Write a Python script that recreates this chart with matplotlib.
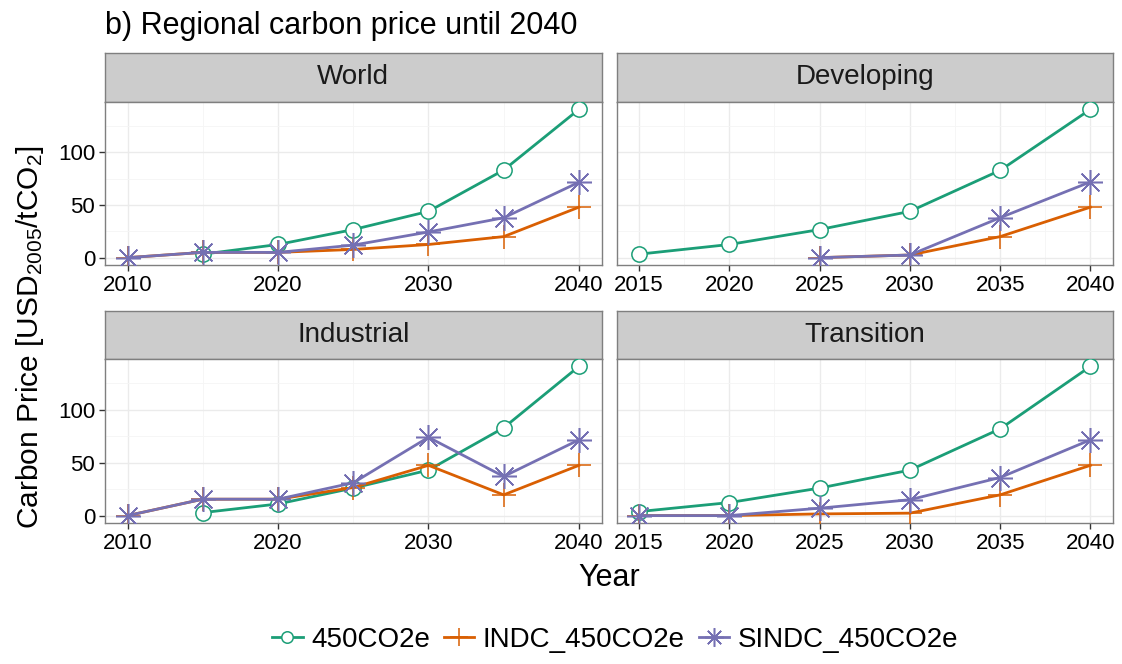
import numpy as np
import matplotlib
matplotlib.use("Agg")
import matplotlib.pyplot as plt
from matplotlib.lines import Line2D

plt.rcParams['font.family'] = ['Liberation Sans', 'DejaVu Sans']
plt.rcParams['mathtext.fontset'] = 'custom'
plt.rcParams['mathtext.rm'] = 'Liberation Sans'
plt.rcParams['mathtext.it'] = 'Liberation Sans'

nan = np.nan

# data
years_long = [2010, 2015, 2020, 2025, 2030, 2035, 2040]
years_short = [2015, 2020, 2025, 2030, 2035, 2040]

world_450 = [nan, 3.3, 12.5, 26.7, 44, 83.3, 141]
world_indc = [0, 5, 5, 7.8, 12.5, 20, 48]
world_sindc = [0, 5, 5, 11.9, 24.4, 37.9, 71.7]

dev_450 = [3.3, 12.5, 26.7, 44, 83, 141]
dev_indc = [nan, nan, 0, 2.5, 20, 48]
dev_sindc = [nan, nan, 0, 2.5, 38, 72]

ind_450 = [nan, 2.8, 11, 26, 43, 83, 141]
ind_indc = [0, 15.5, 15.5, 26.5, 47.5, 19.6, 47.5]
ind_sindc = [0, 15.5, 15.5, 31, 74, 37, 71.6]

tr_450 = [3.8, 12.3, 26, 43, 82, 141]
tr_indc = [0, 0, 1.6, 2.3, 19.6, 47.5]
tr_sindc = [0, 0, 7, 15, 36, 71.6]

scenarios = ['450CO2e', 'INDC_450CO2e', 'SINDC_450CO2e']
colors = ['#1B9E77', '#D95F02', '#7570B3']
markers = ['o', '+', (8, 2, 0)]
msizes = [11, 17, 18]

panels = [
    ('World', years_long, [world_450, world_indc, world_sindc]),
    ('Developing', years_short, [dev_450, dev_indc, dev_sindc]),
    ('Industrial', years_long, [ind_450, ind_indc, ind_sindc]),
    ('Transition', years_short, [tr_450, tr_indc, tr_sindc]),
]

W, H = 1122, 664
fig = plt.figure(figsize=(W / 100, H / 100), dpi=100)

def px(x0, y0, x1, y1):
    return [x0 / W, 1 - y1 / H, (x1 - x0) / W, (y1 - y0) / H]

cols = [(105, 601.5), (616.5, 1113)]
rows = [(53, 102, 265), (311, 359, 523)]

for i, (name, yrs, series) in enumerate(panels):
    c0, c1 = cols[i % 2]
    s0, p0, p1 = rows[i // 2]
    # strip
    sax = fig.add_axes(px(c0, s0, c1, p0))
    sax.set_facecolor('#CCCCCC')
    sax.set_xticks([])
    sax.set_yticks([])
    for sp in sax.spines.values():
        sp.set_color('#7F7F7F')
        sp.set_linewidth(1.0)
    sax.text(0.5, 0.5, name, ha='center', va='center', fontsize=20,
             transform=sax.transAxes, color='#1A1A1A')

    ax = fig.add_axes(px(c0, p0, c1, p1))
    for vals, col, mk, ms in zip(series, colors, markers, msizes):
        fc = 'white' if mk == 'o' else col
        ax.plot(yrs, vals, color=col, lw=2.0, marker=mk, ms=ms,
                mfc=fc, mec=col, mew=1.1, zorder=3)
    span = yrs[-1] - yrs[0]
    ax.set_xlim(yrs[0] - 0.05 * span, yrs[-1] + 0.05 * span)
    ax.set_ylim(-7, 148)
    if yrs[0] == 2010:
        ax.set_xticks([2010, 2020, 2030, 2040])
        ax.set_xticks([2015, 2025, 2035], minor=True)
    else:
        ax.set_xticks(yrs)
        ax.set_xticks([2017.5, 2022.5, 2027.5, 2032.5, 2037.5], minor=True)
    ax.set_yticks([0, 50, 100])
    ax.set_yticks([25, 75, 125], minor=True)
    ax.grid(which='major', color='#EBEBEB', lw=1.0, zorder=0)
    ax.grid(which='minor', color='#F5F5F5', lw=0.6, zorder=0)
    ax.set_axisbelow(True)
    ax.tick_params(which='major', length=4, width=1, color='#333333',
                   labelsize=16, labelcolor='black', pad=3)
    ax.tick_params(which='minor', length=0)
    if i % 2 == 1:
        ax.tick_params(axis='y', labelleft=False, length=0)
    for sp in ax.spines.values():
        sp.set_color('#7F7F7F')
        sp.set_linewidth(1.0)

fig.text(105 / W, 1 - 26 / H, 'b) Regional carbon price until 2040', fontsize=22,
         ha='left', va='center')
fig.text(609 / W, 1 - 578 / H, 'Year', fontsize=22, ha='center', va='center')
fig.text(30 / W, 1 - 337 / H, 'Carbon Price [USD$_{2005}$/tCO$_{2}$]', fontsize=21.5,
         ha='center', va='center', rotation=90)

handles = []
for lab, col, mk, ms in zip(scenarios, colors, markers, msizes):
    fc = 'white' if mk == 'o' else col
    handles.append(Line2D([], [], color=col, lw=2.0, marker=mk, ms=ms * 0.75,
                          mfc=fc, mec=col, mew=1.1, label=lab))
fig.legend(handles=handles, loc='center', bbox_to_anchor=(615 / W, 1 - 640 / H),
           ncol=3, frameon=False, fontsize=20, handlelength=1.1,
           handletextpad=0.3, columnspacing=0.5)

fig.savefig('out.png', dpi=100)
